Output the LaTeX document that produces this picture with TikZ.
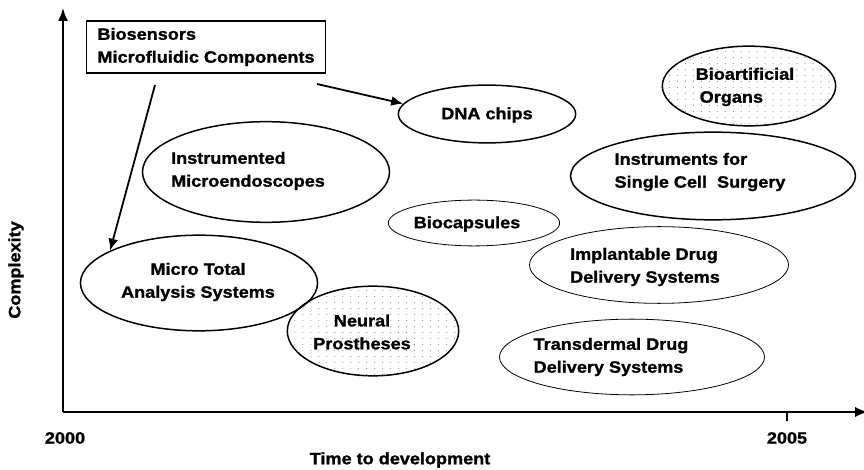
\documentclass[tikz,border=0pt]{standalone}
\usepackage{fontspec}
\setmainfont{Liberation Sans}[FakeStretch=1.1, BoldFeatures={FakeBold=1.2}]
\usetikzlibrary{arrows.meta,shapes.geometric,patterns}

% sparse grey dots for the shaded bubbles
\pgfdeclarepatternformonly{sparse dots}{\pgfqpoint{-1pt}{-1pt}}{\pgfqpoint{1pt}{1pt}}{\pgfqpoint{8pt}{6pt}}%
  {\pgfpathcircle{\pgfqpoint{0pt}{0pt}}{0.55pt}\pgfusepath{fill}}

\tikzset{
  bubble/.style={draw, ellipse, line width=1.5pt, inner sep=0pt},
  thin bubble/.style={bubble, line width=0.8pt},
  dotted bubble/.style={bubble, pattern=sparse dots, pattern color=black!45},
  lbl/.style={font=\fontsize{16.5}{23}\selectfont\bfseries, align=left, inner sep=0pt},
  link/.style={line width=1.8pt, -{Latex[length=12pt,width=10pt]}},
  axis/.style={line width=1.8pt, -{Latex[length=13pt,width=10pt]}},
}

\begin{document}
\begin{tikzpicture}[x=1bp, y=-1bp]
    \useasboundingbox (0,0) rectangle (864,470);

    % Axes
    \coordinate (origin) at (63,412);
    \coordinate (ytop) at (63,8);
    \coordinate (xend) at (868,412);
    \coordinate (tick) at (787,412);
    \draw [axis] (origin) -- (ytop);
    \draw [axis] (origin) -- (xend);
    \draw [line width=1.2pt] (tick) -- ++(0,9);

    % Axis labels
    \node [lbl] (y2000) at (65,438) {2000};
    \node [lbl] (y2005) at (787,438) {2005};
    \node [lbl] (xlabel) at (400,460) {Time to development};
    \node [lbl, rotate=90] (ylabel) at (16,270) {Complexity};

    % Enabling technologies
    \node [lbl, draw, line width=1.2pt, inner xsep=11pt, inner ysep=7pt]
        (tech) at (206,47) {Biosensors\\Microfluidic Components};

    % Applications
    \node [bubble, minimum width=248, minimum height=101] (ime) at (266,172) {};
    \node [lbl] (imeT) at (248,171) {Instrumented\\Microendoscopes};

    \node [bubble, minimum width=238, minimum height=96] (mtas) at (199,283) {};
    \node [lbl, align=center] (mtasT) at (198,282) {Micro Total\\Analysis Systems};

    \node [dotted bubble, minimum width=172, minimum height=90] (np) at (373,331) {};
    \node [lbl, align=center] (npT) at (362,332) {Neural\\Prostheses};

    \node [bubble, minimum width=178, minimum height=58] (dna) at (487,114) {};
    \node [lbl] (dnaT) at (487,115) {DNA chips};

    \node [thin bubble, minimum width=172, minimum height=46] (bcap) at (474,223) {};
    \node [lbl] (bcapT) at (467,224) {Biocapsules};

    \node [dotted bubble, minimum width=174, minimum height=80] (bao) at (749,86) {};
    \node [lbl] (baoT) at (745,87) {Bioartificial\\\hspace*{4pt}Organs};

    \node [bubble, minimum width=286, minimum height=88] (iscs) at (713,176) {};
    \node [lbl] (iscsT) at (700,172) {Instruments for\\Single Cell~ Surgery};

    \node [thin bubble, minimum width=260, minimum height=77] (idds) at (659,265) {};
    \node [lbl] (iddsT) at (645,267) {Implantable Drug\\Delivery Systems};

    \node [thin bubble, minimum width=266, minimum height=76] (tdds) at (632,357) {};
    \node [lbl] (tddsT) at (611,357) {Transdermal Drug\\Delivery Systems};

    % Arrows from the box
    \coordinate (tail1) at (155,85);
    \coordinate (tail2) at (317,84);
    \draw [link] (tail1) -- (mtas.160);
    \draw [link] (tail2) -- (dna.173);
\end{tikzpicture}
\end{document}
